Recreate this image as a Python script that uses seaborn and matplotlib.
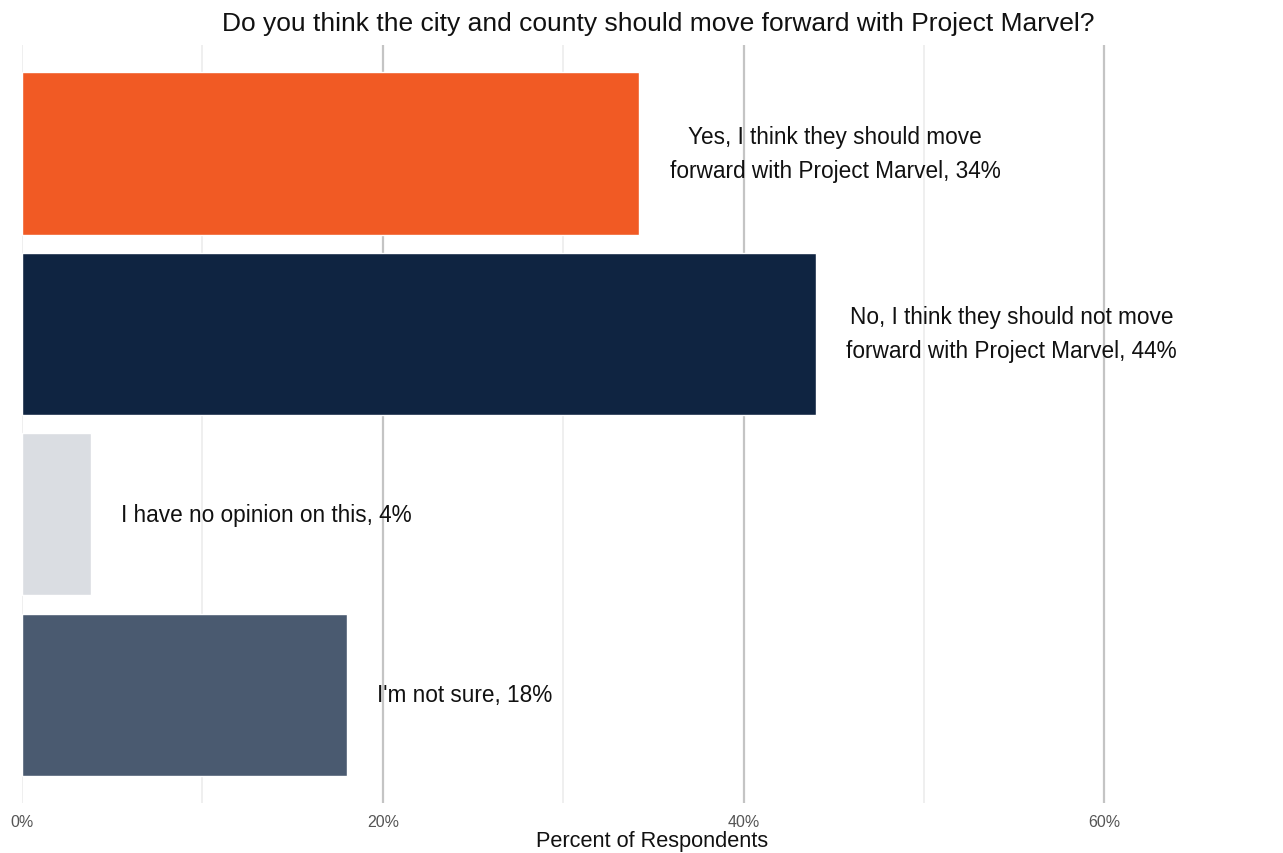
import matplotlib
matplotlib.use("Agg")
import matplotlib.pyplot as plt
import seaborn as sns
import pandas as pd

# data
answers = [
    "Yes, I think they should move\nforward with Project Marvel",
    "No, I think they should not move\nforward with Project Marvel",
    "I have no opinion on this",
    "I'm not sure",
]
percents = [34.2, 44.0, 3.8, 18.0]
colors = ["#F15A24", "#0F2441", "#DADDE2", "#4A5A70"]
major_ticks = [0, 20, 40, 60]
minor_ticks = [10, 30, 50]

sns.set_style("white")
plt.rcParams['font.family'] = ['Liberation Sans', 'DejaVu Sans']

df = pd.DataFrame({"answer": answers, "pct": percents})

fig = plt.figure(figsize=(12.83, 8.54), dpi=100)
ax = fig.add_axes([22 / 1283, 1 - 804 / 854, 1 - 22 / 1283, (804 - 46) / 854])

# grid lines behind bars
for t in minor_ticks + [0]:
    ax.axvline(t, color="#EBEBEB", lw=1.1, zorder=0)
for t in major_ticks[1:]:
    ax.axvline(t, color="#C4C4C4", lw=1.6, zorder=0)

sns.barplot(data=df, y="answer", x="pct", hue="answer", palette=colors,
            orient="h", width=0.9, legend=False, ax=ax, saturation=1, zorder=2)

for i, (a, p) in enumerate(zip(answers, percents)):
    ax.text(p + 1.7, i, f"{a}, {round(p)}%", ha="left", va="center",
            multialignment="center", fontsize=16.3, color="#111111",
            linespacing=1.62, zorder=1)

ax.set_xlim(0, 69.9)
ax.set_ylim(3.6, -0.6)
ax.set_xticks(major_ticks)
ax.set_xticklabels([f"{t}%" for t in major_ticks], color="#555555", fontsize=11.5)
ax.tick_params(axis="x", length=0, pad=8)
ax.set_yticks([])
ax.set_ylabel("")
ax.set_xlabel("Percent of Respondents", fontsize=15.7, color="#111111", labelpad=1)
sns.despine(ax=ax, left=True, bottom=True)
ax.set_title("Do you think the city and county should move forward with Project Marvel?",
             fontsize=19, color="#111111", pad=11, x=(658 - 22) / (1283 - 22))

fig.savefig("out.png", dpi=100)
